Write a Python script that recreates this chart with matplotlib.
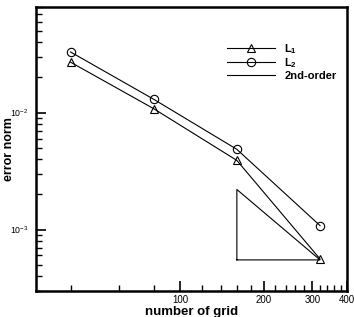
import matplotlib
matplotlib.use("Agg")
import matplotlib.pyplot as plt
from matplotlib.ticker import LogLocator, FixedLocator, NullFormatter, FixedFormatter

plt.rcParams['font.family'] = ['Liberation Sans', 'DejaVu Sans']
plt.rcParams['mathtext.fontset'] = 'custom'
plt.rcParams['mathtext.rm'] = 'Liberation Sans'
plt.rcParams['mathtext.bf'] = 'Liberation Sans:bold'

grid = [40, 80, 160, 320]
err_L1 = [0.0270, 0.0108, 0.0039, 0.00056]
err_L2 = [0.0330, 0.0130, 0.00485, 0.00108]
tri_x = [160, 320, 160, 160]
tri_y = [0.00055, 0.00055, 0.0022, 0.00055]
xticks = [100, 200, 300, 400]
xminor = [40, 60, 80, 120, 140, 160, 180, 220, 240, 260, 280, 320, 340, 360, 380]

fig = plt.figure(figsize=(3.54, 3.17), dpi=100)
ax = fig.add_axes([0.1017, 0.083, 0.878, 0.895])

ax.plot(grid, err_L1, color='black', lw=0.8, marker='^', ms=5.5, mfc='none', mec='black', mew=0.8, label=r'L$_\mathbf{1}$')
ax.plot(grid, err_L2, color='black', lw=0.8, marker='o', ms=6, mfc='none', mec='black', mew=0.8, label=r'L$_\mathbf{2}$')
ax.plot(tri_x, tri_y, color='black', lw=0.8, label='2nd-order')

ax.set_xscale('log')
ax.set_yscale('log')
ax.set_xlim(30, 400)
ax.set_ylim(3e-4, 8e-2)

ax.xaxis.set_major_locator(FixedLocator(xticks))
ax.xaxis.set_major_formatter(FixedFormatter([str(t) for t in xticks]))
ax.xaxis.set_minor_locator(FixedLocator(xminor))
ax.xaxis.set_minor_formatter(NullFormatter())
ax.yaxis.set_major_locator(LogLocator(base=10, numticks=10))
ax.yaxis.set_minor_locator(LogLocator(base=10, subs=range(2, 10), numticks=20))
ax.yaxis.set_minor_formatter(NullFormatter())

ax.tick_params(which='both', direction='in', top=False, right=False)
ax.tick_params(axis='x', labelsize=7, pad=3)
ax.tick_params(axis='y', labelsize=6.3, pad=5.5)
ax.tick_params(which='major', length=7, width=1.2)
ax.tick_params(which='minor', length=4, width=1.0)
for s in ax.spines.values():
    s.set_linewidth(1.8)

ax.set_xlabel('number of grid', fontsize=9.5, fontweight='bold', labelpad=1)
ax.set_ylabel('error norm', fontsize=9, fontweight='bold')
ax.yaxis.set_label_coords(-0.066, 0.50)

leg = ax.legend(loc='upper left', bbox_to_anchor=(0.613, 0.877), frameon=False,
                prop={'weight': 'bold', 'size': 8}, handlelength=4.4, handletextpad=0.8,
                labelspacing=0.05, borderpad=0, borderaxespad=0)

fig.savefig('out.png', dpi=100)
